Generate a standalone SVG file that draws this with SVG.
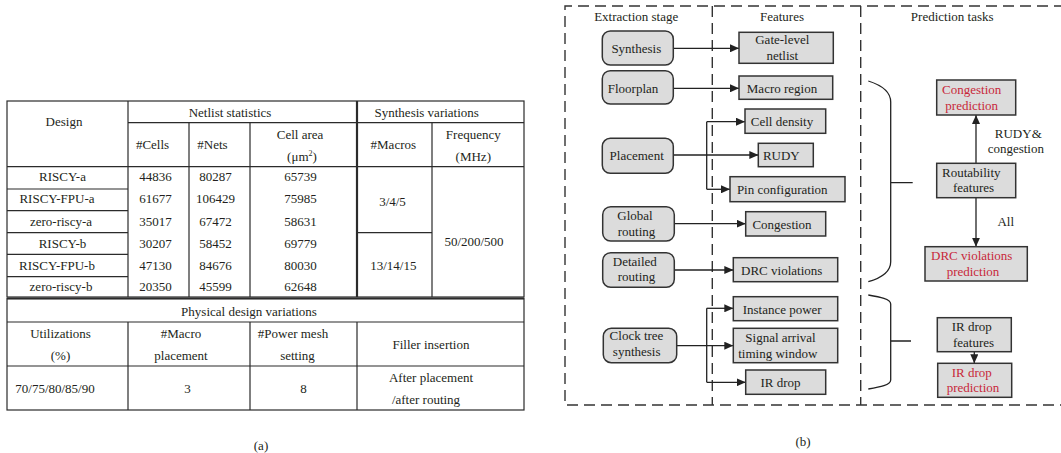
<svg xmlns="http://www.w3.org/2000/svg" width="1061" height="453" viewBox="0 0 1061 453">
<style>
text{font-family:"Liberation Serif","Times New Roman",serif;font-size:13px;fill:#231f20;text-anchor:middle}
.red{fill:#c8283a}
.tl{stroke:#2b2b2b;stroke-width:1.2;fill:none}
.tk{stroke:#2b2b2b;stroke-width:2.2;fill:none}
.rn{fill:#dcdcdc;stroke:#333;stroke-width:1.5}
.dash{stroke:#333;stroke-width:1.4;fill:none;stroke-dasharray:11 6}
.ln{stroke:#222;stroke-width:1.3;fill:none}
.arr{stroke:#222;stroke-width:1.3;fill:none;marker-end:url(#ah)}
</style>
<defs>
<marker id="ah" markerUnits="userSpaceOnUse" markerWidth="9" markerHeight="8" refX="9" refY="4" orient="auto">
<path d="M0,0 L9,4 L0,8 z" fill="#222"/>
</marker>
</defs>
<rect width="1061" height="453" fill="#fff"/>

<!-- Table (a) -->
<g id="table">
<rect class="tl" x="7" y="101" width="517" height="196"/>
<path class="tl" d="M128,122.7H524 M7,166.7H524 M7,189H128 M7,210.7H128 M7,232.7H128 M7,254.3H128 M7,276.7H128 M357,232.7H432"/>
<path class="tl" d="M128,101V297 M189,122.7V297 M250,122.7V297 M432,122.7V297"/>
<path class="tk" d="M357,101V297"/>
<path class="tk" d="M7,298.5H524"/>
<rect class="tl" x="7" y="298.5" width="517" height="111.5"/>
<path class="tl" d="M7,322H524 M7,366H524 M128,322V410 M250,322V410 M357,322V410"/>

<text x="64" y="125.5">Design</text>
<text x="230" y="116.5">Netlist statistics</text>
<text x="152.5" y="148.8">#Cells</text>
<text x="212.5" y="148.8">#Nets</text>
<text x="300" y="139">Cell area</text>
<text x="302" y="161.2">(μm<tspan dy="-5" font-size="8">2</tspan><tspan dy="5">)</tspan></text>
<text x="426.7" y="116.5">Synthesis variations</text>
<text x="393.3" y="148.8">#Macros</text>
<text x="473.3" y="139">Frequency</text>
<text x="473.3" y="161.2">(MHz)</text>

<text x="62.5" y="181.2">RISCY-a</text>
<text x="57" y="203">RISCY-FPU-a</text>
<text x="61" y="225.5">zero-riscy-a</text>
<text x="62.5" y="247.5">RISCY-b</text>
<text x="57" y="269.5">RISCY-FPU-b</text>
<text x="61" y="291.2">zero-riscy-b</text>

<text x="155.5" y="181.2">44836</text>
<text x="155.5" y="203">61677</text>
<text x="155.5" y="225.5">35017</text>
<text x="155.5" y="247.5">30207</text>
<text x="155.5" y="269.5">47130</text>
<text x="155.5" y="291.2">20350</text>

<text x="215.5" y="181.2">80287</text>
<text x="215.5" y="203">106429</text>
<text x="215.5" y="225.5">67472</text>
<text x="215.5" y="247.5">58452</text>
<text x="215.5" y="269.5">84676</text>
<text x="215.5" y="291.2">45599</text>

<text x="300.5" y="181.2">65739</text>
<text x="300.5" y="203">75985</text>
<text x="300.5" y="225.5">58631</text>
<text x="300.5" y="247.5">69779</text>
<text x="300.5" y="269.5">80030</text>
<text x="300.5" y="291.2">62648</text>

<text x="392.5" y="206">3/4/5</text>
<text x="393.3" y="270">13/14/15</text>
<text x="474" y="246.2">50/200/500</text>

<text x="249" y="315.5">Physical design variations</text>
<text x="60.5" y="337.5">Utilizations</text>
<text x="60.5" y="359.5">(%)</text>
<text x="181" y="337.5">#Macro</text>
<text x="181" y="359.5">placement</text>
<text x="293" y="337.5">#Power mesh</text>
<text x="297.5" y="359.5">setting</text>
<text x="431" y="348.5">Filler insertion</text>
<text x="55" y="392.5">70/75/80/85/90</text>
<text x="187.6" y="392.5">3</text>
<text x="303.6" y="392.5">8</text>
<text x="431" y="381.5">After placement</text>
<text x="426" y="403.5">/after routing</text>
<text x="261" y="449.5">(a)</text>
</g>

<!-- Diagram (b) frame -->
<g id="frame">
<path class="dash" d="M1065,6H565V405H1065"/>
<path class="dash" d="M712.3,6V405 M860.7,6V405"/>
<text x="636.2" y="21.2">Extraction stage</text>
<text x="782" y="21.2">Features</text>
<text x="952.2" y="21.2">Prediction tasks</text>
<text x="803" y="446.2">(b)</text>
</g>

<!-- connectors -->
<g id="connectors">
<path class="arr" d="M673.3,48.3H739"/>
<path class="arr" d="M673.3,88.3H739"/>
<path class="ln" d="M706.7,121.7V189.3"/>
<path class="arr" d="M706.7,121.7H745"/>
<path class="arr" d="M673.3,155H758.3"/>
<path class="arr" d="M706.7,189.3H730"/>
<path class="arr" d="M674.3,223.7H745.7"/>
<path class="arr" d="M674.3,270H733.3"/>
<path class="ln" d="M706.7,308.3V382.3"/>
<path class="arr" d="M706.7,308.3H733.3"/>
<path class="arr" d="M676.7,345.7H733.3"/>
<path class="arr" d="M706.7,382.3H745.7"/>
<path class="arr" d="M976,163.3V115"/>
<path class="arr" d="M976,197.7V246.7"/>
<path class="arr" d="M974.3,351.7V363.3"/>
<path class="ln" stroke-width="1.5" d="M868.3,81 C881,85 890.7,92 890.7,102 V261.7 C890.7,272 881,278 868.3,281.7 M890.7,182.7H912.7"/>
<path class="ln" stroke-width="1.5" d="M868.3,295 C880,297 890.7,299 890.7,304 V380 C890.7,385 880,387 868.3,389 M890.7,341H911"/>
<text x="1018.3" y="137.8">RUDY&amp;</text>
<text x="1015.8" y="153.2">congestion</text>
<text x="1005.7" y="225.5">All</text>
</g>

<!-- Extraction stages -->
<g id="synthesis"><rect class="rn" x="602.3" y="31" width="71" height="34" rx="8"/><text x="636.3" y="52.8">Synthesis</text></g>
<g id="floorplan"><rect class="rn" x="602.3" y="70.7" width="71" height="33.3" rx="8"/><text x="633" y="92.8">Floorplan</text></g>
<g id="placement"><rect class="rn" x="602.3" y="138.3" width="71" height="35" rx="8"/><text x="636.7" y="159.5">Placement</text></g>
<g id="global-routing"><rect class="rn" x="602.7" y="206.7" width="71.6" height="34.3" rx="8"/><text x="635" y="219.5">Global</text><text x="636.5" y="235.5">routing</text></g>
<g id="detailed-routing"><rect class="rn" x="602.7" y="252.7" width="71.6" height="34.6" rx="8"/><text x="634.8" y="265.5">Detailed</text><text x="636.5" y="281.2">routing</text></g>
<g id="cts"><rect class="rn" x="603.3" y="328.3" width="73.4" height="34.4" rx="8"/><text x="636.5" y="340.2">Clock tree</text><text x="636.7" y="356.2">synthesis</text></g>

<!-- Features -->
<g id="gate-level-netlist"><rect class="rn" x="739" y="32.3" width="94.3" height="31"/><text x="782.3" y="43.8">Gate-level</text><text x="782.3" y="59.5">netlist</text></g>
<g id="macro-region"><rect class="rn" x="739" y="76" width="93.7" height="23.3"/><text x="782" y="92.8">Macro region</text></g>
<g id="cell-density"><rect class="rn" x="745" y="109" width="80.7" height="24.3"/><text x="782" y="126.2">Cell density</text></g>
<g id="rudy"><rect class="rn" x="758.3" y="143.3" width="55" height="23.4"/><text x="781.3" y="159.5">RUDY</text></g>
<g id="pin-configuration"><rect class="rn" x="730" y="176.7" width="115" height="25"/><text x="782.2" y="193.8">Pin configuration</text></g>
<g id="congestion"><rect class="rn" x="745.7" y="211.7" width="80" height="24.3"/><text x="782" y="228.5">Congestion</text></g>
<g id="drc-violations"><rect class="rn" x="733.3" y="257.7" width="104.4" height="24"/><text x="781.7" y="275.2">DRC violations</text></g>
<g id="instance-power"><rect class="rn" x="733.3" y="296.7" width="104.4" height="24"/><text x="782.2" y="313.5">Instance power</text></g>
<g id="signal-arrival"><rect class="rn" x="733.3" y="328.3" width="104.4" height="34.4"/><text x="780.5" y="341.8">Signal arrival</text><text x="777.8" y="357.8">timing window</text></g>
<g id="ir-drop"><rect class="rn" x="745.7" y="370" width="80" height="24.3"/><text x="780.5" y="387.2">IR drop</text></g>

<!-- Prediction tasks -->
<g id="congestion-prediction"><rect class="rn" x="936.7" y="80" width="79" height="35"/><text class="red" x="971.7" y="93.8">Congestion</text><text class="red" x="971.7" y="109.5">prediction</text></g>
<g id="routability-features"><rect class="rn" x="936.7" y="163.3" width="79" height="34.4"/><text x="971.3" y="176.8">Routability</text><text x="973.5" y="192.2">features</text></g>
<g id="drc-prediction"><rect class="rn" x="925" y="246.7" width="102.3" height="34.3"/><text class="red" x="971.7" y="259.5">DRC violations</text><text class="red" x="973" y="276.2">prediction</text></g>
<g id="ir-drop-features"><rect class="rn" x="937.3" y="317.7" width="74" height="34"/><text x="971.7" y="330.5">IR drop</text><text x="973.5" y="347.2">features</text></g>
<g id="ir-drop-prediction"><rect class="rn" x="937.7" y="363.3" width="74" height="34"/><text class="red" x="971.7" y="376.8">IR drop</text><text class="red" x="973" y="392.2">prediction</text></g>
</svg>
